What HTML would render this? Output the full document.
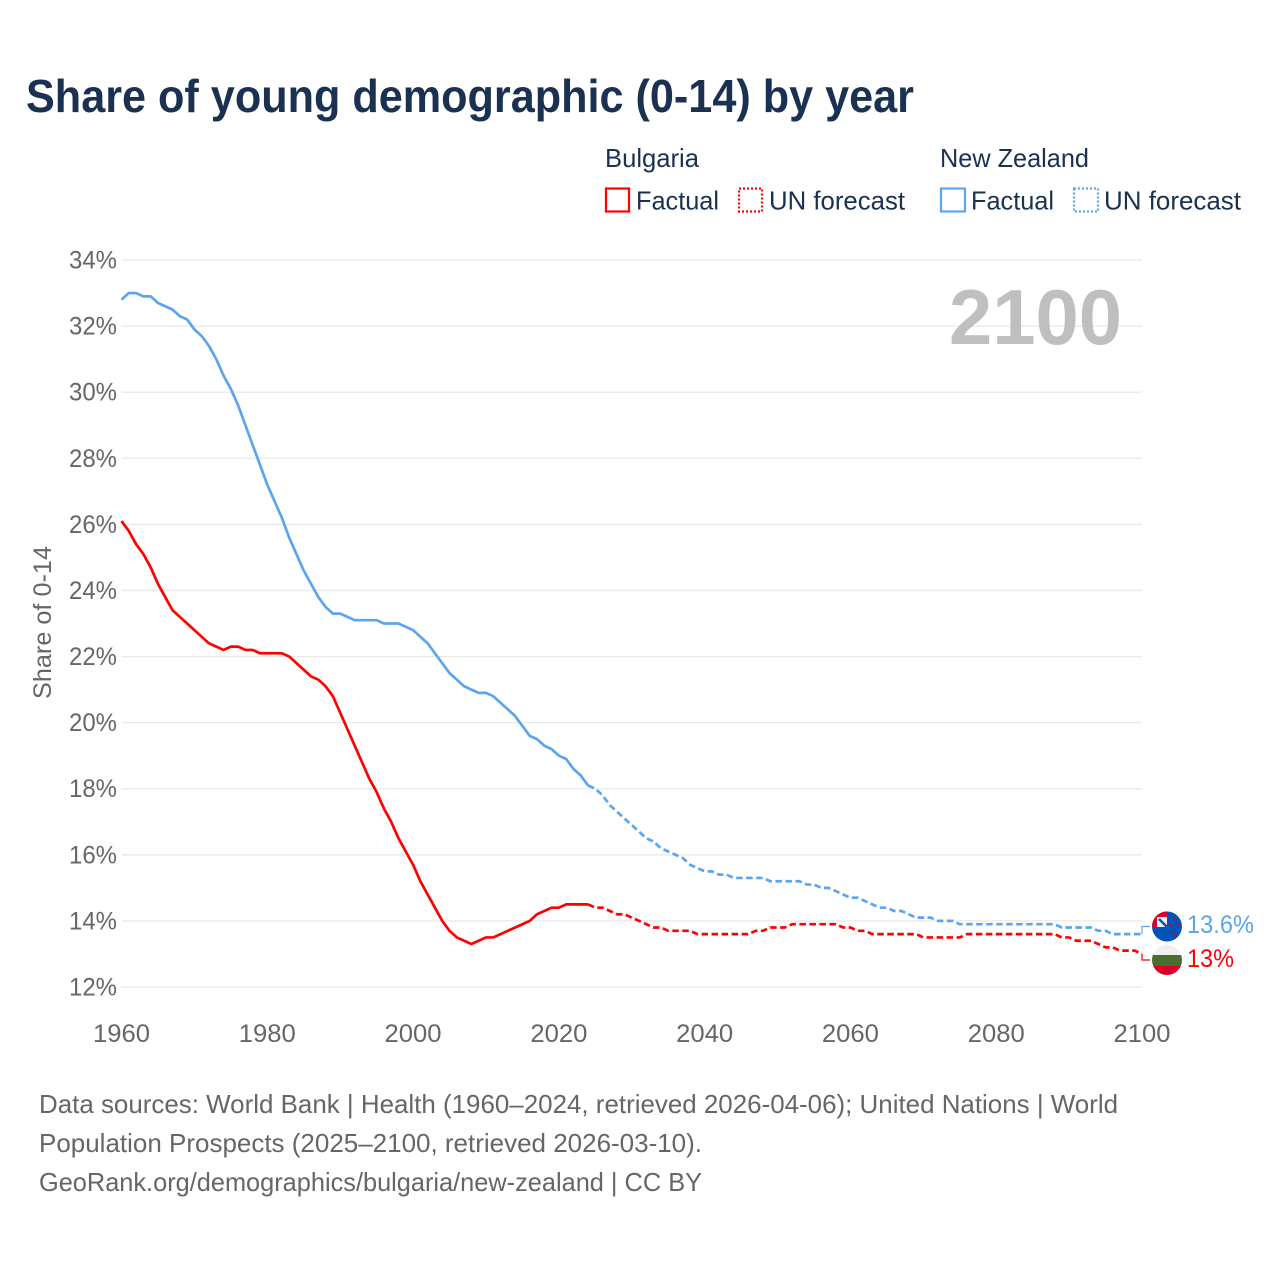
<!DOCTYPE html>
<html lang="en">
<head>
<meta charset="utf-8">
<title>Share of young demographic (0-14) by year</title>
<style>
  html, body { margin: 0; padding: 0; background: #fff; }
  svg { display: block; font-family: "Liberation Sans", sans-serif; }
  .head { fill: #1a3152; }
  .muted { fill: #666666; }
</style>
</head>
<body>
<svg id="chart" xmlns="http://www.w3.org/2000/svg" width="1280" height="1280" viewBox="0 0 1280 1280">
  <rect width="1280" height="1280" fill="#ffffff"/>
  <text class="head" x="26" y="112" font-size="46" font-weight="700" textLength="888" lengthAdjust="spacingAndGlyphs">Share of young demographic (0-14) by year</text>

  <g font-size="26">
    <text class="head" x="605" y="167" textLength="94" lengthAdjust="spacingAndGlyphs">Bulgaria</text>
    <rect x="606" y="188.5" width="23" height="23" fill="none" stroke="#ff0000" stroke-width="2.2"/>
    <text class="head" x="636" y="209.5" textLength="83" lengthAdjust="spacingAndGlyphs">Factual</text>
    <rect x="739" y="188.5" width="23" height="23" fill="none" stroke="#ff0000" stroke-width="2.2" stroke-dasharray="2 2"/>
    <text class="head" x="769" y="209.5" textLength="136" lengthAdjust="spacingAndGlyphs">UN forecast</text>
    <text class="head" x="940" y="167" textLength="149" lengthAdjust="spacingAndGlyphs">New Zealand</text>
    <rect x="941" y="188.5" width="24" height="23" fill="none" stroke="#5ca5ee" stroke-width="2.2"/>
    <text class="head" x="971" y="209.5" textLength="83" lengthAdjust="spacingAndGlyphs">Factual</text>
    <rect x="1074" y="188.5" width="24" height="23" fill="none" stroke="#5ca5ee" stroke-width="2.2" stroke-dasharray="2 2"/>
    <text class="head" x="1104" y="209.5" textLength="137" lengthAdjust="spacingAndGlyphs">UN forecast</text>
  </g>

  <g id="grid"></g>
  <text id="watermark" x="1122" y="344" text-anchor="end" font-size="78" font-weight="700" fill="#bfbfbf" textLength="173" lengthAdjust="spacingAndGlyphs"></text>
  <g id="yTicks"></g>
  <g id="xTicks"></g>
  <text class="muted" transform="translate(51 699) rotate(-90)" font-size="25" textLength="153" lengthAdjust="spacingAndGlyphs">Share of 0-14</text>
  <g id="series"></g>

  <defs>
    <clipPath id="clip-nz"><circle cx="1167" cy="926.5" r="15"/></clipPath>
    <clipPath id="clip-bg"><circle cx="1167" cy="960" r="15"/></clipPath>
  </defs>
  <g clip-path="url(#clip-nz)">
    <rect x="1150" y="910" width="34" height="34" fill="#0052b4"/>
    <rect x="1150" y="910" width="17" height="17" fill="#d80027"/>
    <rect x="1157" y="917" width="10" height="10" fill="#f0f0f0"/>
    <path d="M1159 919 L1167 927" stroke="#0052b4" stroke-width="2.5"/>
    <circle cx="1175" cy="918" r="1.3" fill="#d80027"/>
    <circle cx="1171" cy="925" r="1.3" fill="#d80027"/>
    <circle cx="1179" cy="924" r="1.3" fill="#d80027"/>
    <circle cx="1175" cy="934" r="1.5" fill="#d80027"/>
  </g>
  <g clip-path="url(#clip-bg)">
    <rect x="1150" y="944" width="34" height="11" fill="#f0f0f0"/>
    <rect x="1150" y="955" width="34" height="11" fill="#496e2d"/>
    <rect x="1150" y="966" width="34" height="11" fill="#d80027"/>
  </g>

  <g class="muted" font-size="26">
    <text x="39" y="1113" textLength="1079" lengthAdjust="spacingAndGlyphs">Data sources: World Bank | Health (1960–2024, retrieved 2026-04-06); United Nations | World</text>
    <text x="39" y="1152" textLength="663" lengthAdjust="spacingAndGlyphs">Population Prospects (2025–2100, retrieved 2026-03-10).</text>
    <text x="39" y="1191" textLength="663" lengthAdjust="spacingAndGlyphs">GeoRank.org/demographics/bulgaria/new-zealand | CC BY</text>
  </g>
</svg>
<script>
const firstYear = 1960;
const lastFactualYear = 2024;
const xTickYears = [1960, 1980, 2000, 2020, 2040, 2060, 2080, 2100];
const yTickValues = [12, 14, 16, 18, 20, 22, 24, 26, 28, 30, 32, 34];

// 1960-2024
const bulgariaFactual = [
  26.1,25.8,25.4,25.1,24.7,24.2,23.8,23.4,23.2,23.0,
  22.8,22.6,22.4,22.3,22.2,22.3,22.3,22.2,22.2,22.1,
  22.1,22.1,22.1,22.0,21.8,21.6,21.4,21.3,21.1,20.8,
  20.3,19.8,19.3,18.8,18.3,17.9,17.4,17.0,16.5,16.1,
  15.7,15.2,14.8,14.4,14.0,13.7,13.5,13.4,13.3,13.4,
  13.5,13.5,13.6,13.7,13.8,13.9,14.0,14.2,14.3,14.4,
  14.4,14.5,14.5,14.5,14.5
];
// 2025-2100
const bulgariaForecast = [
  14.4,14.4,14.3,14.2,14.2,
  14.1,14.0,13.9,13.8,13.8,13.7,13.7,13.7,13.7,13.6,
  13.6,13.6,13.6,13.6,13.6,13.6,13.6,13.7,13.7,13.8,
  13.8,13.8,13.9,13.9,13.9,13.9,13.9,13.9,13.9,13.8,
  13.8,13.7,13.7,13.6,13.6,13.6,13.6,13.6,13.6,13.6,
  13.5,13.5,13.5,13.5,13.5,13.5,13.6,13.6,13.6,13.6,
  13.6,13.6,13.6,13.6,13.6,13.6,13.6,13.6,13.6,13.5,
  13.5,13.4,13.4,13.4,13.3,13.2,13.2,13.1,13.1,13.1,
  13.0
];
// 1960-2024
const newZealandFactual = [
  32.8,33.0,33.0,32.9,32.9,32.7,32.6,32.5,32.3,32.2,
  31.9,31.7,31.4,31.0,30.5,30.1,29.6,29.0,28.4,27.8,
  27.2,26.7,26.2,25.6,25.1,24.6,24.2,23.8,23.5,23.3,
  23.3,23.2,23.1,23.1,23.1,23.1,23.0,23.0,23.0,22.9,
  22.8,22.6,22.4,22.1,21.8,21.5,21.3,21.1,21.0,20.9,
  20.9,20.8,20.6,20.4,20.2,19.9,19.6,19.5,19.3,19.2,
  19.0,18.9,18.6,18.4,18.1
];
// 2025-2100
const newZealandForecast = [
  18.0,17.8,17.5,17.3,17.1,
  16.9,16.7,16.5,16.4,16.2,16.1,16.0,15.9,15.7,15.6,
  15.5,15.5,15.4,15.4,15.3,15.3,15.3,15.3,15.3,15.2,
  15.2,15.2,15.2,15.2,15.1,15.1,15.0,15.0,14.9,14.8,
  14.7,14.7,14.6,14.5,14.4,14.4,14.3,14.3,14.2,14.1,
  14.1,14.1,14.0,14.0,14.0,13.9,13.9,13.9,13.9,13.9,
  13.9,13.9,13.9,13.9,13.9,13.9,13.9,13.9,13.9,13.8,
  13.8,13.8,13.8,13.8,13.7,13.7,13.6,13.6,13.6,13.6,
  13.6
];

const NS = 'http://www.w3.org/2000/svg';
const plotLeft = 121.5, plotRight = 1142, plotTop = 260, plotBottom = 987;
const xMin = xTickYears[0], xMax = xTickYears[xTickYears.length - 1];
const yMin = yTickValues[0], yMax = yTickValues[yTickValues.length - 1];
const xScale = y => plotLeft + (y - xMin) / (xMax - xMin) * (plotRight - plotLeft);
const yScale = v => plotBottom - (v - yMin) / (yMax - yMin) * (plotBottom - plotTop);

function make(tag, attrs, parent, text) {
  const el = document.createElementNS(NS, tag);
  for (const k in attrs) el.setAttribute(k, attrs[k]);
  if (text !== undefined) el.textContent = text;
  parent.appendChild(el);
  return el;
}

const gridGroup = document.getElementById('grid');
const yTickGroup = document.getElementById('yTicks');
const xTickGroup = document.getElementById('xTicks');
const seriesGroup = document.getElementById('series');

yTickValues.forEach(v => {
  const line = make('line', {x1: plotLeft, x2: plotRight, y1: yScale(v), y2: yScale(v), stroke: '#e9e9e9', 'stroke-width': 1.3}, gridGroup);
  
  
  const label = make('text', {x: 117, y: yScale(v) + 8.5, 'text-anchor': 'end', 'font-size': 25, fill: '#666666', textLength: 48, lengthAdjust: 'spacingAndGlyphs'}, yTickGroup, v + '%');
  
  
});

xTickYears.forEach(y => {
  const label = make('text', {x: xScale(y), y: 1042, 'text-anchor': 'middle', 'font-size': 25, fill: '#666666', textLength: 57, lengthAdjust: 'spacingAndGlyphs'}, xTickGroup, String(y));
  
  
});

document.getElementById('watermark').textContent = String(xMax);

function toPath(values, startYear) {
  return values.map((v, i) => (i ? 'L' : 'M') + xScale(startYear + i).toFixed(2) + ' ' + yScale(v).toFixed(2)).join(' ');
}

function drawCountry(key, color, factual, forecast, labelY, connectorY, labelWidth) {
  const solid = make('path', {d: toPath(factual, firstYear), fill: 'none', stroke: color, 'stroke-width': 2.7, 'stroke-linejoin': 'round'}, seriesGroup);
  
  

  const joined = [factual[factual.length - 1]].concat(forecast);
  const dashed = make('path', {d: toPath(joined, lastFactualYear), fill: 'none', stroke: color, 'stroke-width': 2.7, 'stroke-dasharray': '6.5 3.5'}, seriesGroup);
  
  

  const endValue = forecast[forecast.length - 1];
  const endX = xScale(xMax), endY = yScale(endValue);
  const connector = make('path', {d: 'M' + endX + ' ' + endY + ' V' + connectorY + ' H' + (endX + 8), fill: 'none', stroke: color, 'stroke-width': 1.2}, seriesGroup);
  
  

  const label = make('text', {x: 1187, y: labelY, 'font-size': 25, fill: color, textLength: labelWidth, lengthAdjust: 'spacingAndGlyphs'}, seriesGroup, endValue + '%');
  
  
}

drawCountry('new-zealand', '#5ca5ee', newZealandFactual, newZealandForecast, 933, 926.5, 67);
drawCountry('bulgaria', '#ff0000', bulgariaFactual, bulgariaForecast, 967, 960, 47);
</script>
</body>
</html>
